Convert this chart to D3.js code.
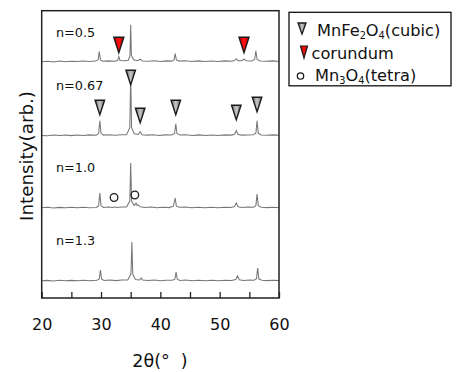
<!DOCTYPE html>
<html><head><meta charset="utf-8">
<script src="https://cdn.jsdelivr.net/npm/d3@7"></script>
<style>
body{margin:0;background:#fff;}
svg{display:block;font-family:"DejaVu Sans",sans-serif;}
</style></head>
<body>
<svg id="c" width="456" height="372"></svg>
<script>
// ---- data (2θ in degrees, intensity in arbitrary units above each trace's baseline)
const seriesNames = ["n=0.5","n=0.67","n=1.0","n=1.3"];
const trace05 = [[20,0],[21,0.5],[22,-0.2],[23,0.6],[24,0],[25,0.5],[26,0.2],[27,0.7],[28,0.3],[29.1,0.6],[29.5,1.8],[29.7,10],[29.9,1.8],[30.3,0.5],[31.3,0.8],[32.3,0.4],[32.8,1.4],[33.0,5],[33.2,1.2],[33.9,0.9],[34.6,1.5],[34.88,6],[35.0,37],[35.12,6],[35.5,2],[36.1,1],[36.6,2.5],[37.0,0.8],[38,0.5],[39,0.9],[40,0.3],[41,0.8],[41.9,0.6],[42.3,1.8],[42.5,8],[42.7,1.8],[43.2,0.6],[44.2,0.9],[45.3,0.3],[46.4,0.8],[47.5,0.2],[48.6,0.7],[49.7,0.3],[50.8,0.8],[51.9,0.5],[52.5,1.2],[52.8,3],[53.1,1],[53.7,1],[54.1,2.5],[54.5,0.9],[55.4,0.8],[55.9,2.2],[56.1,11],[56.3,2.2],[56.8,0.7],[57.8,0.4],[59,0.8],[60,0.3]];
const trace067 = [[20,0.3],[21,0],[22,0.6],[23,0.2],[24,0.7],[25,0.1],[26,0.6],[27,0.3],[28,0.8],[29.2,0.5],[29.6,2.4],[29.8,15],[30.0,2.4],[30.4,0.6],[31.4,0.9],[32.4,0.4],[33.4,0.9],[34.3,1],[34.85,8],[35.0,60],[35.15,8],[35.6,2],[36.3,1.2],[36.6,4],[36.9,1],[37.8,0.6],[38.8,0.9],[39.8,0.3],[40.8,0.8],[41.9,0.7],[42.4,2.2],[42.6,12],[42.8,2.2],[43.3,0.7],[44.3,0.9],[45.4,0.3],[46.5,0.8],[47.6,0.2],[48.7,0.7],[49.8,0.3],[50.9,0.8],[52.0,0.6],[52.5,1.4],[52.8,5],[53.1,1.2],[53.8,0.6],[54.8,0.8],[55.7,0.9],[56.1,2.4],[56.3,15],[56.5,2.4],[57.0,0.8],[58,0.4],[59,0.8],[60,0.4]];
const trace10 = [[20,0.2],[21,0.7],[22,0],[23,0.6],[24,0.2],[25,0.8],[26,0.3],[27,0.7],[28,0.2],[29.2,0.6],[29.6,2.4],[29.8,15],[30.0,2.4],[30.4,0.6],[31.3,0.9],[32.0,0.6],[32.3,1.3],[32.6,0.5],[33.5,0.9],[34.3,1],[34.85,7],[35.0,45],[35.15,7],[35.6,2.5],[35.9,5],[36.1,2.5],[36.3,3],[36.6,1.2],[37.4,0.6],[38.4,0.9],[39.4,0.3],[40.4,0.8],[41.5,0.4],[42.2,1.8],[42.5,10],[42.7,1.8],[43.2,0.7],[44.2,0.9],[45.3,0.3],[46.4,0.8],[47.5,0.2],[48.6,0.7],[49.7,0.3],[50.8,0.8],[51.9,0.6],[52.5,1.4],[52.8,5],[53.1,1.2],[53.8,0.6],[54.8,0.9],[55.7,0.8],[56.1,2.4],[56.3,14],[56.5,2.4],[57.0,0.8],[58,0.4],[59,0.8],[60,0.3]];
const trace13 = [[20,0.2],[21,0.6],[22,0.1],[23,0.7],[24,0.2],[25,0.6],[26,0.3],[27,0.8],[28,0.3],[29.3,0.7],[29.7,2],[29.9,11],[30.1,2],[30.5,0.6],[31.5,0.9],[32.5,0.4],[33.5,0.9],[34.5,1],[35.05,7],[35.2,39],[35.35,7],[35.8,1.5],[36.5,1],[36.75,3],[37.0,0.9],[38,0.5],[39,0.9],[40,0.3],[41,0.8],[42.0,0.7],[42.45,1.8],[42.65,9],[42.85,1.8],[43.3,0.6],[44.3,0.9],[45.4,0.3],[46.5,0.8],[47.6,0.2],[48.7,0.7],[49.8,0.3],[50.9,0.8],[52.0,0.6],[52.7,1.4],[53.0,5],[53.3,1.2],[54.0,0.6],[55.0,0.9],[55.8,0.8],[56.2,2.2],[56.4,13],[56.6,2.2],[57.1,0.8],[58,0.4],[59,0.8],[60,0.5]];
const traces = [trace05, trace067, trace10, trace13];

// phase markers: 2θ position and intensity level of the marker tip (per trace)
const cubicTheta = [29.8, 35.0, 36.6, 42.6, 52.8, 56.3];
const cubicLevel = [21, 51, 13, 21, 16, 24];      // on n=0.67
const corundumTheta = [33.0, 54.1];
const corundumLevel = [9, 9];                      // on n=0.5
const tetraTheta = [32.2, 35.7];
const tetraLevel = [10.5, 13];                     // on n=1.0

const xTicks = [20,25,30,35,40,45,50,55,60];
const xTickLabels = [20,30,40,50,60];

// ---- layout
const svg = d3.select("#c");
const L = 41.7, R = 279, T = 10.7, B = 298;
const x = d3.scaleLinear().domain([20,60]).range([L,R]);
const y = d3.scaleLinear().domain([0,287.3]).range([B,T]);
const offsets = [236.3, 162.3, 90, 17];

const defs = svg.append("defs");
const g1 = defs.append("linearGradient").attr("id","gray").attr("x1",0).attr("y1",0).attr("x2",1).attr("y2",0);
g1.append("stop").attr("offset","0%").attr("stop-color","#6a6a6a");
g1.append("stop").attr("offset","50%").attr("stop-color","#c8c8c8");
g1.append("stop").attr("offset","100%").attr("stop-color","#6a6a6a");
const g2 = defs.append("linearGradient").attr("id","red").attr("x1",0).attr("y1",0).attr("x2",1).attr("y2",0);
g2.append("stop").attr("offset","0%").attr("stop-color","#c00000");
g2.append("stop").attr("offset","50%").attr("stop-color","#ff1010");
g2.append("stop").attr("offset","100%").attr("stop-color","#c00000");

// traces
const line = d3.line().x(d=>x(d[0]));
traces.forEach((tr,i)=>{
  svg.append("path")
    .attr("d", line.y(d=>y(d[1]+offsets[i]))(tr))
    .attr("fill","none").attr("stroke","#777").attr("stroke-width",1.05);
});

// markers
function tri(cx, tipY, w, h){
  return `M${cx-w/2},${tipY-h}L${cx+w/2},${tipY-h}L${cx},${tipY}Z`;
}
svg.append("g").selectAll("path").data(cubicTheta).join("path")
  .attr("d",(t,i)=>tri(x(t), y(cubicLevel[i]+offsets[1]), 9.5, 14.5))
  .attr("fill","url(#gray)").attr("stroke","#1a1a1a").attr("stroke-width",1.4).attr("stroke-linejoin","miter");
svg.append("g").selectAll("path").data(corundumTheta).join("path")
  .attr("d",(t,i)=>tri(x(t), y(corundumLevel[i]+offsets[0]), 10, 15.5))
  .attr("fill","url(#red)").attr("stroke","#1a1a1a").attr("stroke-width",1.4);
svg.append("g").selectAll("circle").data(tetraTheta).join("circle")
  .attr("cx",t=>x(t)).attr("cy",(t,i)=>y(tetraLevel[i]+offsets[2]))
  .attr("r",3.8).attr("fill","none").attr("stroke","#1a1a1a").attr("stroke-width",1.3);

// series labels
const labelBase = [37, 90, 171.7, 245];
svg.append("g").selectAll("text").data(seriesNames).join("text")
  .attr("x",56).attr("y",(d,i)=>labelBase[i]).attr("font-size",12.8).attr("fill","#111").text(d=>d);

// frame
svg.append("rect").attr("x",L).attr("y",T).attr("width",R-L).attr("height",B-T)
  .attr("fill","none").attr("stroke","#222").attr("stroke-width",1.5);

// x axis
const ax = svg.append("g").attr("transform",`translate(0,${B})`)
  .call(d3.axisBottom(x).tickValues(xTicks).tickSize(-6).tickSizeOuter(0)
    .tickFormat(d=>xTickLabels.includes(d)?String(d):""));
ax.select(".domain").remove();
ax.selectAll(".tick line").attr("stroke","#222").attr("stroke-width",1.3);
ax.selectAll(".tick text").attr("font-size",16).attr("font-family","DejaVu Sans").attr("fill","#111")
  .attr("y",21).attr("dy","0.71em");

// axis titles
svg.append("text").attr("x",160).attr("y",367).attr("text-anchor","middle")
  .attr("font-size",17.5).attr("fill","#111").style("white-space","pre").text("2θ(°  )");
svg.append("text").attr("transform","translate(32.5,156) rotate(-90)").attr("text-anchor","middle")
  .attr("font-size",18.3).attr("fill","#111").text("Intensity(arb.)");

// legend
const lg = svg.append("g");
lg.append("rect").attr("x",289).attr("y",12.3).attr("width",162).attr("height",73.5)
  .attr("fill","#fff").attr("stroke","#111").attr("stroke-width",1.3);
lg.append("path").attr("d",tri(302,34,8,11)).attr("fill","url(#gray)").attr("stroke","#1a1a1a").attr("stroke-width",1.3);
lg.append("path").attr("d",tri(304,58,7,12)).attr("fill","url(#red)").attr("stroke","#1a1a1a").attr("stroke-width",1.2);
lg.append("circle").attr("cx",300.5).attr("cy",76).attr("r",3.2).attr("fill","none").attr("stroke","#1a1a1a").attr("stroke-width",1.3);

function chem(xPos, yPos, parts){
  const t = lg.append("text").attr("x",xPos).attr("y",yPos).attr("font-size",16.2).attr("fill","#111");
  let shifted = false;
  parts.forEach(p=>{
    const s = t.append("tspan").text(p.s);
    if(p.sub){ s.attr("font-size",9.8).attr("dy", shifted?0:3); shifted = true; }
    else { if(shifted){ s.attr("dy",-3); shifted=false; } }
  });
  return t;
}
chem(317,35.5,[{s:"MnFe"},{s:"2",sub:true},{s:"O"},{s:"4",sub:true},{s:"(cubic)"}]);
chem(311.5,58.5,[{s:"corundum"}]);
chem(315,81,[{s:"Mn"},{s:"3",sub:true},{s:"O"},{s:"4",sub:true},{s:"(tetra)"}]);
</script>
</body></html>
